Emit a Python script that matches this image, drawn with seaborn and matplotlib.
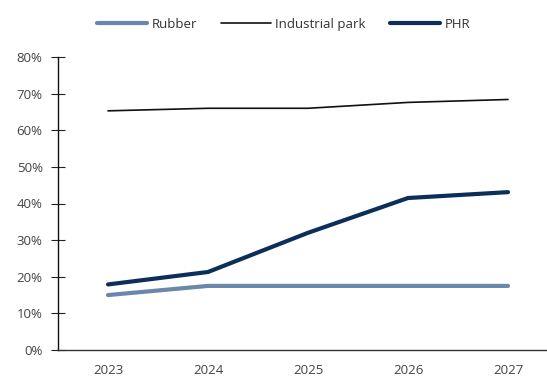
import matplotlib
matplotlib.use("Agg")
import matplotlib.pyplot as plt
import seaborn as sns
import pandas as pd
from matplotlib.ticker import PercentFormatter
from matplotlib.lines import Line2D

years = ["2023", "2024", "2025", "2026", "2027"]
rubber = [15.0, 17.5, 17.5, 17.5, 17.5]
industrial = [65.3, 66.0, 66.0, 67.6, 68.4]
phr = [17.9, 21.3, 32.0, 41.5, 43.1]

series = {"Rubber": rubber, "Industrial park": industrial, "PHR": phr}
rows = []
for name, vals in series.items():
    for i, (y, v) in enumerate(zip(years, vals)):
        rows.append({"idx": i, "year": y, "value": v, "series": name})
df = pd.DataFrame(rows)

sns.set_style("white")
plt.rcParams['font.family'] = ['Open Sans', 'DejaVu Sans']

fig = plt.figure(figsize=(5.47, 3.76), dpi=100)
ax = fig.add_axes([58/547, 1-350/376, (558-58)/547, (350-57)/376])

palette = {"Rubber": "#6b87aa", "Industrial park": "#111111", "PHR": "#0b2f5a"}
sizes = {"Rubber": 3.0, "Industrial park": 1.2, "PHR": 3.0}
sns.lineplot(data=df, x="idx", y="value", hue="series", size="series",
             sizes=sizes, palette=palette, ax=ax, legend=False,
             hue_order=list(series.keys()))
for ln in ax.lines:
    ln.set_solid_capstyle("round")

ax.set_xlim(-0.5, 4.5)
ax.set_ylim(0, 80)
ax.set_yticks(range(0, 81, 10))
ax.yaxis.set_major_formatter(PercentFormatter(decimals=0))
ax.set_xticks([0.5, 1.5, 2.5, 3.5])
ax.set_xticklabels([])
ax.set_xticks(range(5), minor=True)
ax.set_xticklabels(years, minor=True)
ax.tick_params(axis="x", which="major", direction="in", length=5, width=0.8, color="#333333")
ax.tick_params(axis="x", which="minor", length=0, pad=10, labelsize=9.5, labelcolor="#444444")
ax.tick_params(axis="y", direction="inout", length=10, width=0.8, color="#222222",
               labelsize=9.5, labelcolor="#444444", pad=6, left=True)
ax.set_xlabel("")
ax.set_ylabel("")
for s in ["top", "right"]:
    ax.spines[s].set_visible(False)
ax.spines["left"].set_color("#111111")
ax.spines["bottom"].set_color("#333333")
ax.spines["left"].set_linewidth(1.0)
ax.spines["bottom"].set_linewidth(1.0)

handles = [Line2D([0], [0], color=palette[n], lw=sizes[n], solid_capstyle="round") for n in series]
fig.legend(handles, list(series.keys()), loc="center", bbox_to_anchor=(0.518, 0.935),
           ncol=3, frameon=False, fontsize=9.5, handlelength=3.8, columnspacing=1.8,
           handletextpad=0.35, labelcolor="#333333")

fig.savefig("out.png", dpi=100)
